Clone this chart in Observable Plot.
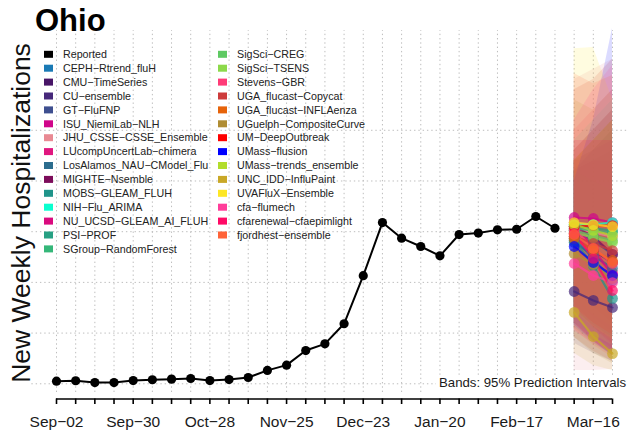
<!DOCTYPE html>
<html>
<head>
<meta charset="utf-8">
<script src="https://cdn.jsdelivr.net/npm/d3@7"></script>
<script src="https://cdn.jsdelivr.net/npm/@observablehq/plot@0.6"></script>
<style>
  body { margin: 0; background: #fff; }
  #chart svg { display: block; }
</style>
</head>
<body>
<div id="chart"></div>
<script>
const FONT = '"Liberation Sans", Arial, Helvetica, sans-serif';

// ---------- data ----------
const stateName = "Ohio";
const yLabel = "New Weekly Hospitalizations";
const bandNote = "Bands: 95% Prediction Intervals";

const reportedDates = [
  "2023-09-02","2023-09-09","2023-09-16","2023-09-23","2023-09-30","2023-10-07","2023-10-14",
  "2023-10-21","2023-10-28","2023-11-04","2023-11-11","2023-11-18","2023-11-25","2023-12-02",
  "2023-12-09","2023-12-16","2023-12-23","2023-12-30","2024-01-06","2024-01-13","2024-01-20",
  "2024-01-27","2024-02-03","2024-02-10","2024-02-17","2024-02-24","2024-03-02"
];
const reportedValues = [13, 15, 6, 6, 16, 20, 23, 26, 16, 21, 31, 66, 92, 164,
  197, 296, 533, 795, 718, 677, 631, 736, 743, 759, 762, 825, 767];

const forecastDates = ["2024-03-09", "2024-03-16", "2024-03-23"];

const models = [
  "CEPH-Rtrend_fluH","CMU-TimeSeries","CU-ensemble","GT-FluFNP","ISU_NiemiLab-NLH",
  "JHU_CSSE-CSSE_Ensemble","LUcompUncertLab-chimera","LosAlamos_NAU-CModel_Flu","MIGHTE-Nsemble",
  "MOBS-GLEAM_FLUH","NIH-Flu_ARIMA","NU_UCSD-GLEAM_AI_FLUH","PSI-PROF","SGroup-RandomForest",
  "SigSci-CREG","SigSci-TSENS","Stevens-GBR","UGA_flucast-Copycat","UGA_flucast-INFLAenza",
  "UGuelph-CompositeCurve","UM-DeepOutbreak","UMass-flusion","UMass-trends_ensemble",
  "UNC_IDD-InfluPaint","UVAFluX-Ensemble","cfa-flumech","cfarenewal-cfaepimlight","fjordhest-ensemble"
];
const modelColors = [
  "#1A7AB5","#481567","#46287A","#3E4F8F","#D0068A",
  "#E98A93","#E0177F","#2C6D8E","#7C0C5A",
  "#20948A","#0AFFCF","#DA0A7E","#27A083","#35B779",
  "#5EC962","#8CD94A","#FF3B77","#CD3B3B","#E6630A",
  "#B08D34","#FF0000","#0000FF","#B2DD2C",
  "#C9A827","#FDE725","#FF3D9A","#FF0A66","#FF6338"
];
const medians = [
  [716,618,509],[726,657,598],[455,411,376],[756,707,638],[820,815,795],
  [766,746,726],[741,642,549],[697,633,569],[775,726,638],
  [707,583,421],[785,785,795],[795,667,534],[775,766,756],[766,756,746],
  [756,731,707],[746,721,697],[761,667,593],[726,692,657],[716,657,608],
  [642,588,519],[775,780,780],[677,598,534],[785,756,731],
  [352,233,149],[795,785,775],[593,534,499],[741,618,460],[736,667,598]
];
const lowers = [
  [300,220,150],[380,280,200],[200,150,110],[400,300,220],[450,380,300],
  [66,66,70],[330,240,170],[280,200,140],[420,330,250],
  [330,230,150],[300,240,190],[380,280,190],[360,290,230],[420,340,280],
  [360,290,230],[340,270,210],[380,280,200],[230,160,110],[300,210,150],
  [230,150,100],[380,300,240],[290,210,140],[360,280,220],
  [150,90,66],[330,240,190],[260,200,150],[300,210,140],[270,190,130]
];
const uppers = [
  [1100,1150,1200],[1050,1150,1250],[700,720,750],[1050,1150,1250],[1150,1250,1350],
  [1500,1550,1600],[1100,1150,1200],[1150,1250,1350],[1050,1100,1150],
  [1050,1000,950],[1200,1300,1400],[1100,1100,1100],[1100,1200,1300],[1050,1150,1250],
  [1100,1200,1300],[1100,1200,1300],[1250,1350,1450],[1450,1500,1600],[1150,1250,1350],
  [1400,1350,1450],[1100,1200,1300],[1000,1300,1752],[1100,1200,1300],
  [750,700,650],[1652,1658,1400],[1300,1450,1570],[1200,1200,1200],[1530,1480,1520]
];

const tickLabelDates = ["2023-09-02","2023-09-30","2023-10-28","2023-11-25","2023-12-23","2024-01-20","2024-02-17","2024-03-16"];
const tickLabels = ["Sep-02","Sep-30","Oct-28","Nov-25","Dec-23","Jan-20","Feb-17","Mar-16"];
const gridValues = [0, 250, 500, 750, 1000, 1250];

// ---------- build tables ----------
const parse = d3.utcParse("%Y-%m-%d");
const reported = reportedDates.map((d, i) => ({date: parse(d), value: reportedValues[i]}));
const fc = [];
models.forEach((m, i) => forecastDates.forEach((d, j) => fc.push({
  model: m, date: parse(d), median: medians[i][j], lo: lowers[i][j], hi: uppers[i][j]
})));
const xStart = parse(reportedDates[0]);
const xEnd = parse(forecastDates[forecastDates.length - 1]);
const weekly = d3.utcSaturday.range(xStart, d3.utcDay.offset(xEnd, 1));
const labelTicks = tickLabelDates.map((d, i) => ({date: parse(d), label: tickLabels[i].replace(/-/g, "\u2212")}));
const yDomain = [-75, 1890];
const gridLeft = d3.utcDay.offset(xStart, -9);
const gridRight = d3.utcDay.offset(xEnd, 6);
const gridColor = "#bdbdbd";

const chart = Plot.plot({
  width: 629,
  height: 432,
  marginLeft: 56,
  marginRight: 17,
  marginTop: 0,
  marginBottom: 33.5,
  style: {fontFamily: FONT, background: "#fff", overflow: "visible"},
  x: {type: "utc", domain: [xStart, xEnd]},
  y: {domain: yDomain, axis: null},
  color: {type: "ordinal", domain: models, range: modelColors},
  marks: [
    Plot.ruleY(gridValues, {x1: () => gridLeft, x2: () => gridRight, stroke: gridColor, strokeWidth: 1, strokeDasharray: "1.4,2.9"}),
    Plot.ruleX(weekly, {y1: -43, y2: 1742, stroke: gridColor, strokeWidth: 1, strokeDasharray: "1.4,2.9"}),
    Plot.areaY(fc, {x: "date", y1: "lo", y2: "hi", z: "model", fill: "model", fillOpacity: 0.14, curve: "linear"}),
    Plot.line(fc, {x: "date", y: "median", z: "model", stroke: "model", strokeWidth: 2.2, strokeOpacity: 0.75}),
    Plot.dot(fc, {x: "date", y: "median", fill: "model", r: 5.4, fillOpacity: 0.7}),
    Plot.line(reported, {x: "date", y: "value", stroke: "black", strokeWidth: 2}),
    Plot.dot(reported, {x: "date", y: "value", fill: "black", r: 4.6}),
    Plot.ruleY([yDomain[0]], {x1: () => xStart, x2: () => xEnd, stroke: "black", strokeWidth: 1.6}),
    Plot.axisX({ticks: weekly, tickSize: 5.5, tickFormat: () => "", stroke: "black", strokeWidth: 1.6}),
    Plot.text(labelTicks, {x: "date", text: "label", frameAnchor: "bottom", dy: 27.5, lineAnchor: "bottom",
      textAnchor: "middle", fontSize: 15.5, fill: "#1a1a1a"})
  ]
});
document.getElementById("chart").appendChild(chart);

// ---------- annotations (title, y label, legend, band note) ----------
const svg = d3.select(chart);
svg.append("text").attr("x", 35).attr("y", 31).attr("font-family", FONT).attr("text-anchor", "start")
  .attr("font-size", 31).attr("font-weight", "bold").attr("fill", "#000").text(stateName);
svg.append("text").attr("transform", "translate(30,213) rotate(-90)").attr("text-anchor", "middle")
  .attr("font-family", FONT).attr("font-size", 26.5).attr("fill", "#111").text(yLabel);

const legendNames = ["Reported", ...models];
const legendColors = ["#000000", ...modelColors];
const lg = svg.append("g").attr("font-family", FONT).attr("font-size", 10.7).attr("fill", "#222")
  .attr("text-anchor", "start");
legendNames.forEach((n, i) => {
  const col = i < 15 ? 0 : 1;
  const row = col ? i - 15 : i;
  const sx = col ? 218 : 44, tx = col ? 237 : 63, cy = 54.3 + row * 13.9;
  lg.append("rect").attr("x", sx).attr("y", cy - 3.5).attr("width", 9).attr("height", 7).attr("fill", legendColors[i]);
  lg.append("text").attr("x", tx).attr("y", cy + 3.7).attr("text-anchor", "start").text(n.replace(/-/g, "\u2212"));
});

svg.append("rect").attr("x", 436).attr("y", 376).attr("width", 193).attr("height", 16.5).attr("fill", "#fff");
svg.append("text").attr("x", 626).attr("y", 387).attr("text-anchor", "end").attr("font-family", FONT)
  .attr("font-size", 13.2).attr("fill", "#1a1a1a").text(bandNote);
</script>
</body>
</html>
